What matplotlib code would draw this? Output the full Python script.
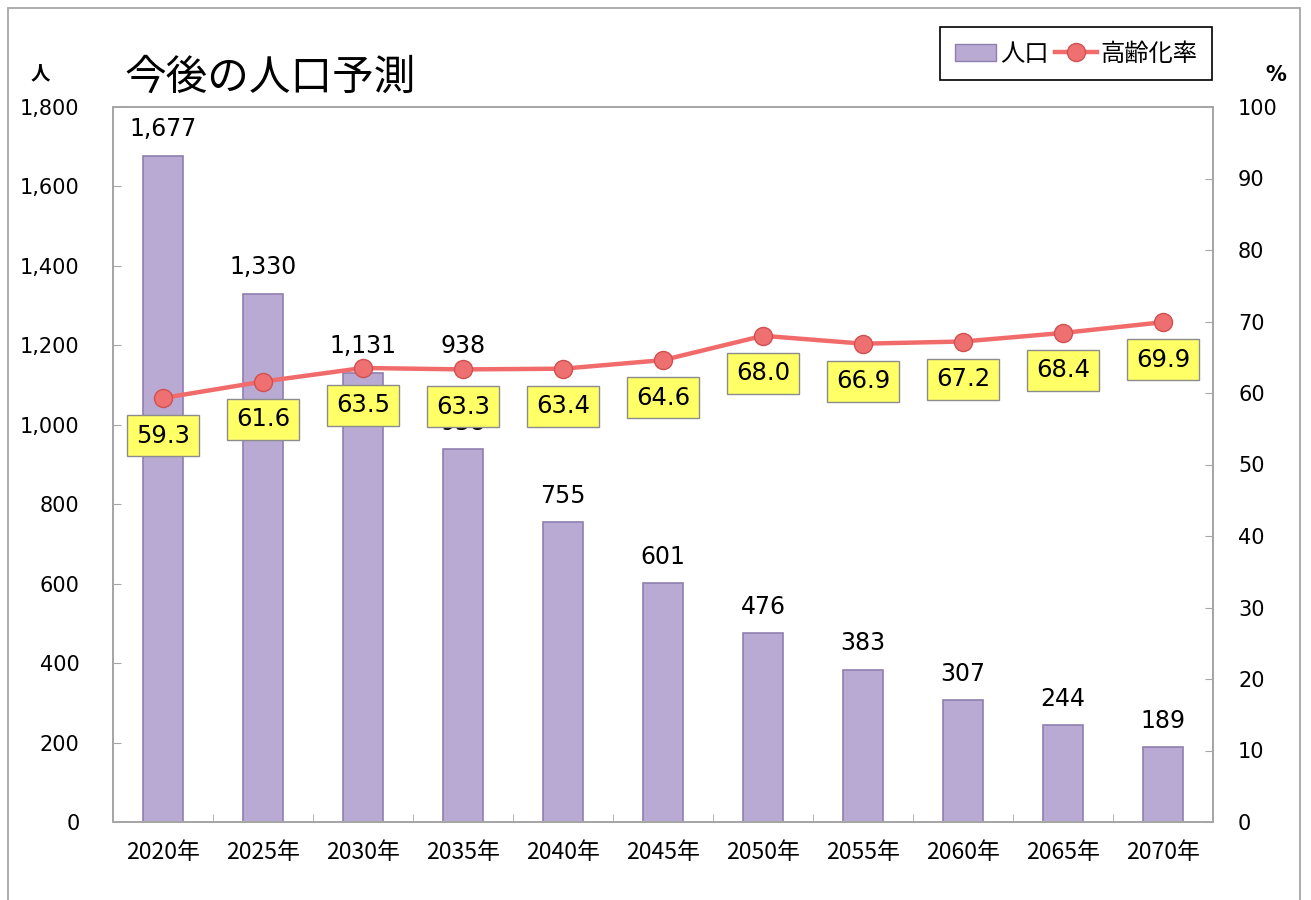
import matplotlib
matplotlib.use('Agg')
import matplotlib.pyplot as plt
from matplotlib.patches import Rectangle, Patch
from matplotlib.lines import Line2D

plt.rcParams['font.family'] = ['DejaVu Sans', 'Noto Sans CJK JP']

years = ['2020年', '2025年', '2030年', '2035年', '2040年', '2045年',
         '2050年', '2055年', '2060年', '2065年', '2070年']
population = [1677, 1330, 1131, 938, 755, 601, 476, 383, 307, 244, 189]
aging_rate = [59.3, 61.6, 63.5, 63.3, 63.4, 64.6, 68.0, 66.9, 67.2, 68.4, 69.9]

bar_color = '#b9aad4'
bar_edge = '#8e7fb0'
line_color = '#f26b6b'
frame_color = '#a6a6a6'

fig = plt.figure(figsize=(13.11, 9), dpi=100)
ax = fig.add_axes([113 / 1311, 1 - 822 / 900, 1100 / 1311, 715 / 900])
ax2 = ax.twinx()

x = list(range(len(years)))

# bars (population)
ax.bar(x, population, width=0.4, color=bar_color, edgecolor=bar_edge,
       linewidth=1.2, zorder=2)
for xi, v in zip(x, population):
    ax.annotate(f'{v:,}', (xi, v), xytext=(0, 19), textcoords='offset points',
                ha='center', va='center', fontsize=17, zorder=3)
# the 2035 value is shown a second time higher up in the original
ax.annotate(f'{population[3]:,}', (x[3], population[2]), xytext=(0, 19),
            textcoords='offset points', ha='center', va='center', fontsize=17)

ax.set_xlim(-0.5, len(years) - 0.5)
ax.set_ylim(0, 1800)
ax.set_yticks(range(0, 1801, 200))
ax.set_yticklabels([f'{v:,}' for v in range(0, 1801, 200)], fontsize=15)
ax.set_xticks(x)
ax.set_xticklabels(years, fontsize=16.5, family=['Noto Sans CJK JP'])
ax.set_xticks([i + 0.5 for i in x[:-1]], minor=True)
ax.tick_params(axis='x', which='major', length=0, pad=14)
ax.tick_params(axis='x', which='minor', direction='in', length=6, color=frame_color)
ax.tick_params(axis='y', direction='in', length=6, color=frame_color, pad=24)

# line (aging rate)
ax2.plot(x, aging_rate, color=line_color, linewidth=3.2, marker='o',
         markersize=13, markerfacecolor='#ee7070', markeredgecolor='#d05050',
         zorder=4)
for xi, v in zip(x, aging_rate):
    ax2.annotate(f'{v:.1f}', (xi, v), xytext=(0, -27), textcoords='offset points',
                 ha='center', va='center', fontsize=17.5, zorder=6,
                 bbox=dict(boxstyle='square,pad=0.35', facecolor='#ffff66',
                           edgecolor='#8c8c8c', linewidth=1))
ax2.set_ylim(0, 100)
ax2.set_yticks(range(0, 101, 10))
ax2.tick_params(axis='y', direction='in', length=6, color=frame_color,
                labelsize=15, pad=18)

ax.set_zorder(1)
ax2.set_zorder(2)
ax2.patch.set_visible(False)

for a in (ax, ax2):
    for s in a.spines.values():
        s.set_color(frame_color)
        s.set_linewidth(1.3)

# titles and unit labels
fig.text(125 / 1311, 1 - 78 / 900, '今後の人口予測', fontsize=30,
         family=['Noto Sans CJK JP'], va='center', ha='left')
fig.text(40 / 1311, 1 - 74 / 900, '人', fontsize=14, fontweight='bold',
         family=['Noto Sans CJK JP'], va='center', ha='center')
fig.text(1276 / 1311, 1 - 75 / 900, '%', fontsize=15, fontweight='bold',
         va='center', ha='center')

handles = [Patch(facecolor=bar_color, edgecolor=bar_edge),
           Line2D([0], [0], color=line_color, linewidth=3.2, marker='o',
                  markersize=13, markerfacecolor='#ee7070',
                  markeredgecolor='#d05050')]
leg = fig.legend(handles, ['人口', '高齢化率'], loc='upper right',
                 bbox_to_anchor=(1212 / 1311, 1 - 27 / 900), ncol=2,
                 fontsize=17.5, frameon=True, fancybox=False, framealpha=1,
                 edgecolor='black', handlelength=1.7, handletextpad=0.15,
                 columnspacing=0.3, borderpad=0.6, borderaxespad=0)
leg.get_frame().set_linewidth(1.2)

# outer chart border
fig.patches.append(Rectangle((8 / 1311, -0.02), 1292 / 1311, 1 - 8 / 900 + 0.02,
                             transform=fig.transFigure, fill=False,
                             edgecolor='#a6a6a6', linewidth=1.3))

fig.savefig('out.png', dpi=100)
